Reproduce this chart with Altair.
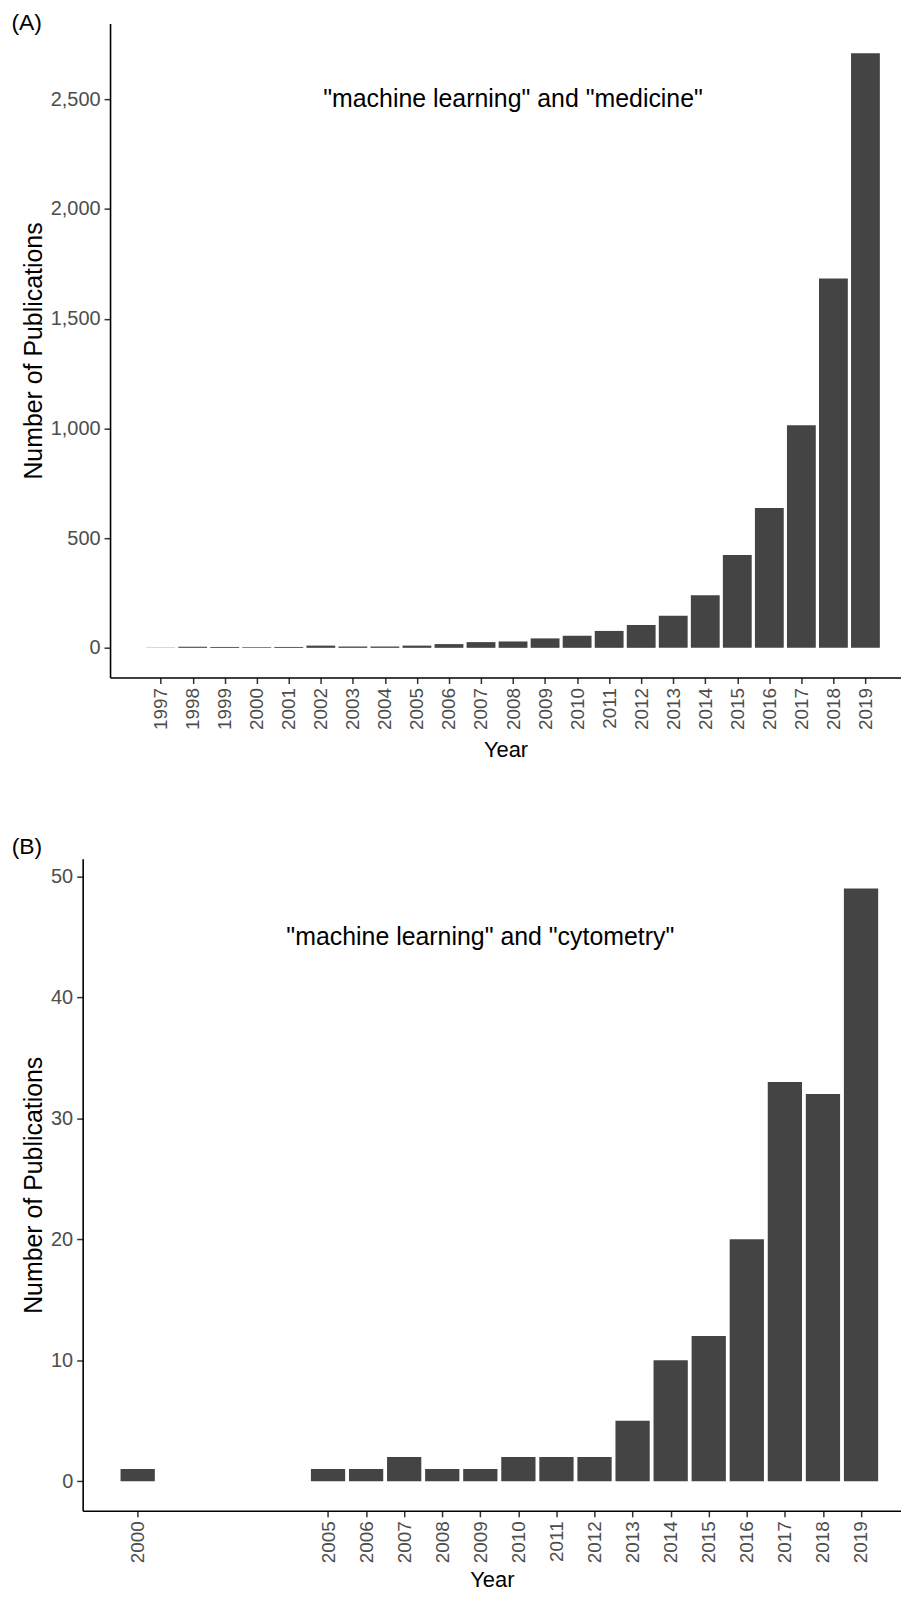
import altair as alt
import pandas as pd

# ---- data ----
years_a = list(range(1997, 2020))
pubs_a = [1, 5, 4, 3, 4, 10, 6, 6, 10, 17, 26, 29, 43, 55, 77, 104, 146, 240, 423, 637, 1014, 1683, 2710]

years_b = [2000, 2005, 2006, 2007, 2008, 2009, 2010, 2011, 2012, 2013, 2014, 2015, 2016, 2017, 2018, 2019]
pubs_b = [1, 1, 1, 2, 1, 1, 2, 2, 2, 5, 10, 12, 20, 33, 32, 49]

y_ticks_a = [0, 500, 1000, 1500, 2000, 2500]
y_ticks_b = [0, 10, 20, 30, 40, 50]

label_a = '"machine learning" and "medicine"'
label_b = '"machine learning" and "cytometry"'
ann_a = {"year": 2008, "count": 2500}
ann_b = {"year": 2009, "count": 45}

FONT = "Liberation Sans"
BAR = "#444444"
W = 822


def panel(years, pubs, yticks, ydomain, xdomain, xrange, yoffset, height, tag, tag_dy,
          label, ann, yfmt, xtitlepad):
    df = pd.DataFrame({"year": years, "count": pubs})
    xscale = alt.Scale(domain=xdomain, range=xrange, nice=False, zero=False)
    yscale = alt.Scale(domain=ydomain, nice=False, zero=False)
    xaxis = alt.Axis(values=years, format="d", labelAngle=270, title="Year",
                     labelOverlap=False, labelFontSize=19,
                     titleFontSize=22, titlePadding=xtitlepad, labelPadding=4)
    yaxis = alt.Axis(values=yticks, format=yfmt, title="Number of Publications",
                     labelFontSize=20, offset=yoffset,
                     titleFontSize=25, titlePadding=4, labelPadding=4)
    bars = alt.Chart(df).transform_calculate(
        lo="datum.year - 0.45", hi="datum.year + 0.45"
    ).mark_bar(color=BAR).encode(
        x=alt.X("lo:Q", scale=xscale, axis=xaxis, title="Year"),
        x2="hi:Q",
        y=alt.Y("count:Q", scale=yscale, axis=yaxis, title="Number of Publications"),
        y2=alt.datum(0),
    )
    txt = alt.Chart(pd.DataFrame({"year": [ann["year"]], "count": [ann["count"]], "t": [label]})).mark_text(
        fontSize=25, font=FONT, color="black", align="center", baseline="middle"
    ).encode(x=alt.X("year:Q", scale=xscale, axis=xaxis, title="Year"),
             y=alt.Y("count:Q", scale=yscale, axis=yaxis, title="Number of Publications"),
             text="t:N")
    return alt.layer(bars, txt).properties(
        width=W, height=height,
        title=alt.TitleParams(text=tag, anchor="start", frame="bounds", fontSize=23,
                              fontWeight="normal", font=FONT, color="black", dx=-10, dy=tag_dy, offset=0),
    )


# panel A: plot area starts 27.5 px right of panel B's
a = panel(years_a, pubs_a, y_ticks_a, [-135.5, 2845.5], [1995.42, 2020.11], [27.5, W], -27.5, 657,
          "(A)", 12, label_a, ann_a, ",.0f", 10)
b = panel(years_b, pubs_b, y_ticks_b, [-2.45, 51.45], [1998.555, 2020.05], [0, W], 0, 655,
          "(B)", 0, label_b, ann_b, "d", 7)

chart = alt.vconcat(a, b, spacing=75).properties(
    padding={"left": 3, "top": 1, "right": 0, "bottom": 0}
).configure(background="white").configure_view(stroke=None).configure_axis(
    grid=False, domainColor="black", domainWidth=1.6, tickColor="#333333", tickWidth=1.5,
    tickSize=6, labelColor="#4d4d4d", labelFont=FONT, titleFont=FONT,
    titleColor="black", titleFontWeight="normal", labelOverlap=False
)

chart.save("out.html", embed_options={"renderer": "svg", "actions": False})
